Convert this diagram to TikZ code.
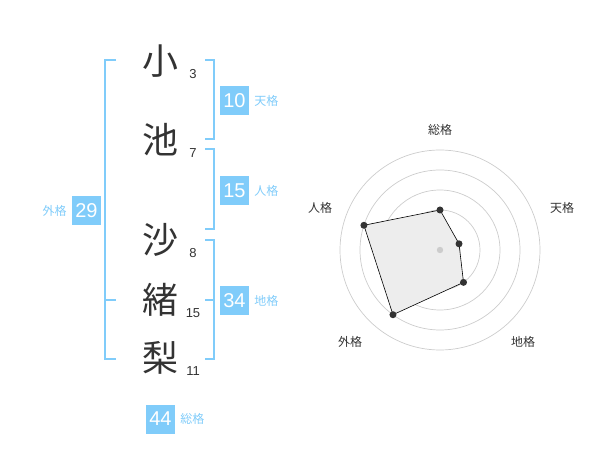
\documentclass[tikz,border=0pt]{standalone}
\usepackage{fontspec}
\setmainfont{Noto Sans CJK JP}
\newfontfamily\digitfont{Liberation Sans}
\usetikzlibrary{calc}
\begin{document}
\begin{tikzpicture}[x=1pt,y=-1pt]
\definecolor{skyblue}{RGB}{128,204,250}
\definecolor{ink}{RGB}{51,51,51}
\definecolor{ring}{RGB}{204,204,204}
\tikzset{
  kanji/.style = {text = ink, font = \fontsize{36}{36}\selectfont, inner sep = 0pt},
  strokes/.style = {text = ink, font = \digitfont\fontsize{13}{13}\selectfont, inner sep = 0pt},
  numbox/.style = {fill = skyblue, text = white, minimum size = 29pt, inner sep = 0pt, font = \digitfont\fontsize{20}{20}\selectfont},
  kaku/.style = {text = skyblue, font = \fontsize{12}{12}\selectfont, inner sep = 0pt},
  bracket/.style = {draw = skyblue, line width = 2pt},
  axislabel/.style = {text = ink, font = \fontsize{12}{12}\selectfont, inner sep = 0pt}
}
\useasboundingbox (0,0) rectangle (600,470);
% name and stroke counts
\foreach \c/\y/\n [count = \i] in {小/61/3, 池/140/7, 沙/240/8, 緒/300/15, 梨/358/11} {
  \node[kanji] (k\i) at (160,\y) {\c};
  \node[strokes] (s\i) at (193,\y+13) {\n};
}
% brackets
\draw[bracket] (116,60) -- (105,60) -- (105,359) -- (116,359);
\draw[bracket] (105,300) -- (116,300);
\draw[bracket] (205,60) -- (214,60) -- (214,139) -- (205,139);
\draw[bracket] (205,149) -- (214,149) -- (214,229) -- (205,229);
\draw[bracket] (205,240) -- (214,240) -- (214,359) -- (205,359);
\draw[bracket] (205,300) -- (214,300);
% boxes
\foreach \v/\x/\y/\lab in {10/234.5/100.5/天格, 15/234.5/190.5/人格, 34/234.5/300.5/地格, 44/160.5/419/総格} {
  \node[numbox] (b\v) at (\x,\y) {\v};
  \node[kaku, anchor = west] (l\v) at ([xshift = 5pt]b\v.east) {\lab};
}
\node[numbox] (b29) at (86.5,210.5) {29};
\node[kaku, anchor = east] (l29) at ([xshift = -5pt]b29.west) {外格};
% radar
\foreach \r in {20,40,...,100} \draw[ring, line width = 0.7pt] (440,250) circle (\r);
\coordinate (rc) at (440,250);
\coordinate (pSou) at ($(rc)+(-90:40)$);
\coordinate (pTen) at ($(rc)+(-18:20)$);
\coordinate (pChi) at ($(rc)+(54:40)$);
\coordinate (pGai) at ($(rc)+(126:80)$);
\coordinate (pJin) at ($(rc)+(198:80)$);
\filldraw[fill = black!7, draw = black, line width = 0.6pt] (pSou) -- (pTen) -- (pChi) -- (pGai) -- (pJin) -- cycle;
\foreach \p in {pSou,pTen,pChi,pGai,pJin} \fill[ink] (\p) circle (3.5);
\fill[ring] (rc) circle (3.2);
\node[axislabel] (aSou) at (440,130) {総格};
\node[axislabel] (aTen) at (562,208) {天格};
\node[axislabel] (aChi) at (523,342) {地格};
\node[axislabel] (aGai) at (350,342) {外格};
\node[axislabel] (aJin) at (320,208) {人格};
\end{tikzpicture}
\end{document}
